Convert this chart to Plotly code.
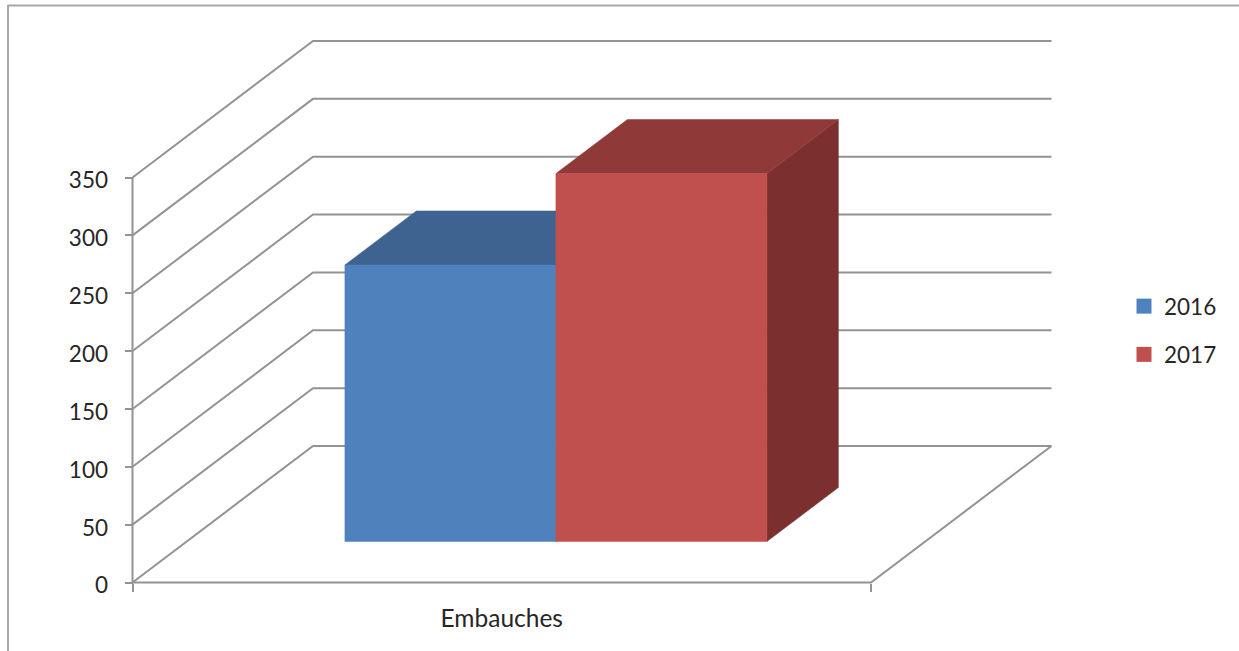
import plotly.graph_objects as go

# Chart data
categories = ["Embauches"]
years = ["2016", "2017"]
embauches = [239, 318]
y_ticks = [0, 50, 100, 150, 200, 250, 300, 350]

# Canvas and plot geometry
WIDTH, HEIGHT = 1239, 651
ORIGIN_PX = (132.5, 582.5)
X_SPAN_PX = 738.5
Y_SPAN_PX = 405.0
Y_MAX = 350.0
px_per_unit = Y_SPAN_PX / Y_MAX

# Oblique projection of the chart box, expressed in axis units
DEPTH_X = 180.5 / X_SPAN_PX
DEPTH_Y = 136.5 / px_per_unit
BAR_FRONT = 0.30    # where the bars' front faces sit inside the box depth
BAR_DEPTH = 0.396   # how deep the bars extend
BAR_WIDTH = 1 / 3.5

GRID = "#939393"
FRAME = "#a8a8a8"
TEXT = "#262626"
FONT = "Lato"
FRONT_COLORS = ["#4f81bd", "#c0504d"]
TOP_COLORS = ["#3e6391", "#8f3a39"]
SIDE_COLORS = ["#31507a", "#7b302f"]

fig = go.Figure()


def add_line(xs, ys):
    fig.add_trace(go.Scatter(x=xs, y=ys, mode="lines", showlegend=False, hoverinfo="skip",
                             line=dict(color=GRID, width=2)))


def add_face(xs, ys, color):
    fig.add_trace(go.Scatter(x=xs, y=ys, mode="lines", fill="toself", fillcolor=color,
                             line=dict(color=color, width=0.5), showlegend=False,
                             hoverinfo="skip"))


# Wall gridlines, one for each labelled value
for v in y_ticks:
    top = v + DEPTH_Y
    add_line([0, DEPTH_X, 1 + DEPTH_X], [v, top, top])

# Vertical axis and the front and right edges of the floor
add_line([0, 0], [0, Y_MAX])
add_line([0, 1, 1 + DEPTH_X], [0, 0, DEPTH_Y])

# Bars as three visible faces, left bar first so the right one covers it
for i, value in enumerate(embauches):
    x0 = 0.5 - BAR_WIDTH + i * BAR_WIDTH + BAR_FRONT * DEPTH_X
    x1 = x0 + BAR_WIDTH
    y0 = BAR_FRONT * DEPTH_Y
    y1 = y0 + value
    dx = BAR_DEPTH * DEPTH_X
    dy = BAR_DEPTH * DEPTH_Y
    add_face([x1, x1 + dx, x1 + dx, x1, x1], [y0, y0 + dy, y1 + dy, y1, y0], SIDE_COLORS[i])
    add_face([x0, x0 + dx, x1 + dx, x1, x0], [y1, y1 + dy, y1 + dy, y1, y1], TOP_COLORS[i])
    add_face([x0, x1, x1, x0, x0], [y0, y0, y1, y1, y0], FRONT_COLORS[i])

# Legend entries
for i, year in enumerate(years):
    fig.add_trace(go.Scatter(x=[None], y=[None], mode="markers", name=year, legendgroup=year,
                             marker=dict(symbol="square", size=15, color=FRONT_COLORS[i])))

fig.update_layout(
    width=WIDTH,
    height=HEIGHT,
    margin=dict(l=0, r=0, t=0, b=0),
    paper_bgcolor="white",
    plot_bgcolor="white",
    font=dict(family=FONT, size=22.5, color=TEXT),
    hovermode=False,
    legend=dict(x=1124 / WIDTH, y=1 - 285 / HEIGHT, xanchor="left", yanchor="top",
                tracegroupgap=16, bgcolor="rgba(0,0,0,0)", font=dict(size=22.5, color=TEXT)),
    xaxis=dict(
        domain=[0, 1],
        range=[-ORIGIN_PX[0] / X_SPAN_PX, (WIDTH - ORIGIN_PX[0]) / X_SPAN_PX],
        anchor="free",
        position=(HEIGHT - ORIGIN_PX[1]) / HEIGHT,
        showgrid=False,
        zeroline=False,
        showline=False,
        tickmode="array",
        tickvals=[0.5],
        ticktext=categories,
        ticks="outside",
        ticklen=14,
        tickcolor="rgba(0,0,0,0)",
        tickfont=dict(size=24.5),
        minor=dict(tickmode="array", tickvals=[0, 1], ticks="outside", ticklen=8,
                   tickcolor=GRID, tickwidth=2),
    ),
    yaxis=dict(
        domain=[0, 1],
        range=[-(HEIGHT - ORIGIN_PX[1]) / px_per_unit, ORIGIN_PX[1] / px_per_unit],
        anchor="free",
        position=ORIGIN_PX[0] / WIDTH,
        showgrid=False,
        zeroline=False,
        showline=False,
        tickmode="array",
        tickvals=y_ticks,
        ticks="outside",
        ticklen=8,
        tickcolor=GRID,
        tickwidth=2,
        ticklabelstandoff=12,
        ticklabelshift=3,
    ),
    shapes=[
        # Chart frame: top and left edges
        dict(type="line", xref="paper", yref="paper", x0=8 / WIDTH, x1=1, y0=1 - 5.5 / HEIGHT,
             y1=1 - 5.5 / HEIGHT, line=dict(color=FRAME, width=2)),
        dict(type="line", xref="paper", yref="paper", x0=8 / WIDTH, x1=8 / WIDTH,
             y0=0, y1=1 - 5 / HEIGHT, line=dict(color=FRAME, width=2)),
    ],
)

fig.write_html("out.html")
